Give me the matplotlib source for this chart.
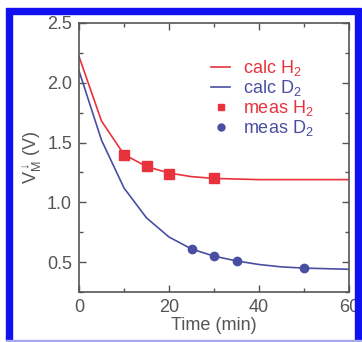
import matplotlib
matplotlib.use("Agg")
import matplotlib.pyplot as plt
from matplotlib.patches import Rectangle
from matplotlib.lines import Line2D
from matplotlib.ticker import MultipleLocator

# ── data ─────────────────────────────────────────────────────────────────────
calc_t  = [0, 5, 10, 15, 20, 25, 30, 35, 40, 45, 50, 55, 60]
calc_h2 = [2.22, 1.68, 1.40, 1.30, 1.245, 1.215, 1.20, 1.195, 1.19, 1.19, 1.19, 1.19, 1.19]
calc_d2 = [2.10, 1.52, 1.12, 0.87, 0.71, 0.61, 0.55, 0.51, 0.48, 0.46, 0.45, 0.445, 0.44]

meas_h2_t = [10, 15, 20, 30]
meas_h2   = [1.40, 1.30, 1.24, 1.20]
meas_d2_t = [25, 30, 35, 50]
meas_d2   = [0.61, 0.55, 0.51, 0.45]

RED  = "#e8323c"
BLUE = "#4a4ea2"
GRAY = "#555555"
FRAME = "#1010f0"

plt.rcParams['font.family'] = ['Liberation Sans', 'DejaVu Sans']
plt.rcParams['mathtext.fontset'] = 'custom'
plt.rcParams['mathtext.rm'] = 'Liberation Sans'
plt.rcParams['mathtext.it'] = 'Liberation Sans'

fig = plt.figure(figsize=(3.62, 3.42), dpi=100)
ax = fig.add_axes([79 / 362, 1 - 292 / 342, (349 - 79) / 362, (292 - 23) / 342])

ax.plot(calc_t, calc_h2, color=RED, lw=1.2)
ax.plot(calc_t, calc_d2, color=BLUE, lw=1.2)
ax.plot(meas_h2_t, meas_h2, 's', color=RED, ms=6.5, mec=RED)
ax.plot(meas_d2_t, meas_d2, 'o', color=BLUE, ms=6, mec=BLUE)

ax.set_xlim(0, 60)
ax.set_ylim(0.25, 2.5)
ax.xaxis.set_major_locator(MultipleLocator(20))
ax.xaxis.set_minor_locator(MultipleLocator(10))
ax.yaxis.set_minor_locator(MultipleLocator(0.25))
ax.set_yticks([0.5, 1.0, 1.5, 2.0, 2.5])
ax.set_yticklabels(["0.5", "1.0", "1.5", "2.0", "2.5"])
ax.tick_params(which='both', direction='in', top=True, right=True,
               colors=GRAY, labelcolor=GRAY, labelsize=13)
ax.tick_params(which='major', length=5, width=1, pad=5)
ax.tick_params(which='minor', length=3, width=1)
for s in ax.spines.values():
    s.set_color(GRAY)
    s.set_linewidth(1.2)

ax.set_xlabel("Time (min)", color=GRAY, fontsize=13, labelpad=1)
ax.set_ylabel(r"$\mathregular{V_M^{\downarrow}}$ (V)", color=GRAY, fontsize=13, labelpad=2)

handles = [
    Line2D([], [], color=RED, lw=1.2),
    Line2D([], [], color=BLUE, lw=1.2),
    Line2D([], [], marker='s', ls='', color=RED, ms=5),
    Line2D([], [], marker='o', ls='', color=BLUE, ms=5),
]
labels = [r"calc H$_\mathregular{2}$", r"calc D$_\mathregular{2}$",
          r"meas H$_\mathregular{2}$", r"meas D$_\mathregular{2}$"]
leg = ax.legend(handles, labels, loc='upper left', bbox_to_anchor=(0.49, 0.87),
                borderaxespad=0, borderpad=0, frameon=False, fontsize=13,
                handlelength=1.05, handletextpad=0.7, labelspacing=0.0)
for txt, c in zip(leg.get_texts(), [RED, BLUE, RED, BLUE]):
    txt.set_color(c)

# blue frame around the whole picture
fig.patches.append(Rectangle((6 / 362, 2 / 342), 6 / 362, 326 / 342,
                             transform=fig.transFigure, color=FRAME, zorder=10))
fig.patches.append(Rectangle((6 / 362, 1 - 14 / 342), 355 / 362, 6 / 342,
                             transform=fig.transFigure, color=FRAME, zorder=10))
fig.patches.append(Rectangle((355 / 362, 2 / 342), 6 / 362, 326 / 342,
                             transform=fig.transFigure, color=FRAME, zorder=10))
fig.patches.append(Rectangle((6 / 362, 1 / 342), 355 / 362, 1.5 / 342,
                             transform=fig.transFigure, color="#a8a8f0", zorder=10))

fig.savefig("out.png", dpi=100)
